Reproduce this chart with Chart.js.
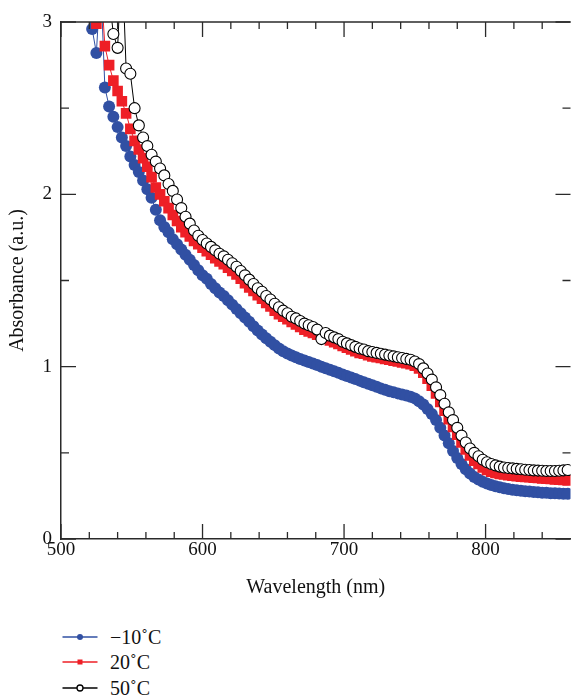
<!DOCTYPE html>
<html><head><meta charset="utf-8">
<script src="https://cdn.jsdelivr.net/npm/chart.js@4.4.0/dist/chart.umd.min.js"></script>
<style>
html,body{margin:0;padding:0;background:#fff;overflow:hidden;}
#wrap{position:relative;width:578px;height:697px;}
#c{position:absolute;left:0;top:0;}
.leg{position:absolute;left:62px;height:24px;display:flex;align-items:center;font-family:"Liberation Serif",serif;font-size:20px;color:#111;white-space:nowrap;}
.leg svg{margin-right:12px;}
</style></head><body>
<div id="wrap"><canvas id="c" width="578" height="600"></canvas><div id="legend"></div></div>
<script>
// Wavelength samples (nm)
const wavelength = [
 516,519,522,525,528,531,534,537,540,543,
 546,549,552,555,558,561,564,567,570,573,
 576,579,582,585,588,591,594,597,600,603,
 606,609,612,615,618,621,624,627,630,633,
 636,639,642,645,648,651,654,657,660,663,
 666,669,672,675,678,681,684,687,690,693,
 696,699,702,705,708,711,714,717,720,723,
 726,729,732,735,738,741,744,747,750,753,
 756,759,762,765,768,771,774,777,780,783,
 786,789,792,795,798,801,804,807,810,813,
 816,819,822,825,828,831,834,837,840,843,
 846,849,852,855,858
];
// Absorbance at -10 °C
const absMinus10 = [
 3.6,3.05,2.96,2.82,3.25,2.62,2.51,2.45,2.39,2.33,
 2.28,2.22,2.17,2.13,2.08,2.03,1.98,1.91,1.85,1.81,
 1.78,1.74,1.71,1.68,1.65,1.62,1.59,1.56,1.53,1.51,
 1.48,1.455,1.43,1.41,1.385,1.36,1.335,1.31,1.285,1.26,
 1.235,1.21,1.187,1.165,1.145,1.125,1.105,1.09,1.077,1.065,
 1.055,1.045,1.036,1.027,1.018,1.009,1.0,0.991,0.982,0.973,
 0.964,0.955,0.946,0.937,0.928,0.919,0.91,0.901,0.892,0.883,
 0.874,0.866,0.858,0.851,0.845,0.839,0.833,0.826,0.816,0.80,
 0.78,0.755,0.725,0.69,0.645,0.60,0.555,0.51,0.47,0.435,
 0.405,0.38,0.36,0.345,0.332,0.322,0.313,0.306,0.30,0.295,
 0.29,0.286,0.283,0.28,0.277,0.275,0.273,0.271,0.269,0.268,
 0.266,0.265,0.264,0.263,0.262
];
// Absorbance at 20 °C
const abs20 = [
 3.5,3.3,3.05,2.99,3.25,2.86,2.75,2.66,2.60,2.54,
 2.47,2.38,2.31,2.26,2.21,2.16,2.10,2.04,2.00,1.96,
 1.92,1.88,1.845,1.81,1.78,1.755,1.73,1.71,1.69,1.67,
 1.65,1.63,1.61,1.595,1.575,1.555,1.535,1.51,1.485,1.46,
 1.44,1.415,1.395,1.37,1.35,1.325,1.305,1.29,1.275,1.26,
 1.245,1.23,1.215,1.205,1.195,1.185,1.175,1.165,1.152,1.142,
 1.132,1.12,1.11,1.10,1.09,1.08,1.075,1.066,1.06,1.055,
 1.05,1.045,1.04,1.035,1.03,1.025,1.02,1.015,1.005,0.99,
 0.965,0.93,0.89,0.845,0.795,0.745,0.695,0.65,0.605,0.56,
 0.52,0.485,0.455,0.435,0.415,0.40,0.39,0.383,0.378,0.374,
 0.37,0.367,0.364,0.362,0.36,0.358,0.356,0.354,0.352,0.35,
 0.348,0.346,0.344,0.342,0.34
];
// Absorbance at 50 °C
const abs50 = [
 3.8,3.7,3.6,3.5,3.4,3.3,3.15,2.93,2.85,3.4,
 2.73,2.70,2.50,2.40,2.33,2.28,2.23,2.19,2.15,2.11,
 2.06,2.02,1.97,1.92,1.87,1.83,1.79,1.76,1.735,1.715,
 1.695,1.675,1.655,1.64,1.62,1.60,1.58,1.555,1.53,1.505,
 1.48,1.455,1.435,1.41,1.39,1.365,1.345,1.325,1.31,1.29,
 1.28,1.265,1.25,1.24,1.23,1.215,1.16,1.195,1.18,1.17,
 1.16,1.145,1.135,1.125,1.115,1.105,1.10,1.09,1.085,1.08,
 1.075,1.07,1.065,1.06,1.055,1.05,1.045,1.04,1.03,1.015,
 0.99,0.96,0.925,0.88,0.835,0.785,0.735,0.69,0.645,0.60,
 0.56,0.525,0.50,0.48,0.46,0.445,0.435,0.427,0.42,0.415,
 0.412,0.41,0.407,0.405,0.402,0.40,0.398,0.397,0.396,0.395,
 0.395,0.395,0.396,0.398,0.40
];
const seriesLabels = ['\u221210\u02DAC', '20\u02DAC', '50\u02DAC'];
const xMajorTicks = [500, 600, 700, 800];
const xMinorTicks = [520,540,560,580,620,640,660,680,720,740,760,780,820,840];
const yMajorTicks = [0, 1, 2, 3];
const yMinorTicks = [0.5, 1.5, 2.5];

const BLUE = '#3150a3', RED = '#ee1f26', BLACK = '#000000';
const FONT = "'Liberation Serif', 'Times New Roman', serif";
const toXY = arr => wavelength.map((w, i) => ({x: w, y: arr[i]}));

const frameTicks = {
  id: 'frameTicks',
  afterDatasetsDraw(chart) {
    const {ctx, chartArea: a, scales: {x, y}} = chart;
    ctx.save();
    ctx.strokeStyle = '#2a2a2a';
    ctx.lineWidth = 1.3;
    ctx.beginPath();
    const seg = (x1, y1, x2, y2) => { ctx.moveTo(x1, y1); ctx.lineTo(x2, y2); };
    const xt = (v, L) => { const p = x.getPixelForValue(v); seg(p, a.bottom, p, a.bottom - L); seg(p, a.top, p, a.top + L); };
    const yt = (v, L) => { const p = y.getPixelForValue(v); seg(a.left, p, a.left + L, p); seg(a.right, p, a.right - L, p); };
    xMinorTicks.forEach(v => xt(v, 7));
    xMajorTicks.forEach(v => xt(v, 15));
    yMinorTicks.forEach(v => yt(v, 8));
    yMajorTicks.forEach(v => yt(v, 15));
    ctx.stroke();
    ctx.lineWidth = 1.5;
    ctx.beginPath();
    seg(a.left, a.top, a.right, a.top);
    ctx.stroke();
    ctx.restore();
  }
};

new Chart(document.getElementById('c'), {
  type: 'line',
  data: {
    datasets: [
      { label: seriesLabels[0], data: toXY(absMinus10), order: 3,
        borderColor: BLUE, borderWidth: 1, backgroundColor: BLUE,
        pointStyle: 'circle', pointRadius: 6, pointBorderWidth: 0,
        pointBackgroundColor: BLUE, pointBorderColor: BLUE },
      { label: seriesLabels[1], data: toXY(abs20), order: 2,
        borderColor: RED, borderWidth: 1, backgroundColor: RED,
        pointStyle: 'rect', pointRadius: 7.5, pointBorderWidth: 0,
        pointBackgroundColor: RED, pointBorderColor: RED },
      { label: seriesLabels[2], data: toXY(abs50), order: 1,
        borderColor: BLACK, borderWidth: 1, backgroundColor: '#fff',
        pointStyle: 'circle', pointRadius: 5.5, pointBorderWidth: 1.1,
        pointBackgroundColor: '#ffffff', pointBorderColor: BLACK }
    ]
  },
  options: {
    responsive: false,
    animation: false,
    layout: { padding: { top: 22, right: 0, left: 0, bottom: 0 } },
    plugins: { legend: { display: false }, tooltip: { enabled: false } },
    elements: { line: { tension: 0 } },
    scales: {
      x: {
        type: 'linear', position: 'bottom', min: 500, max: 860,
        afterFit(s) { s.height = 61; },
        grid: { display: false, drawTicks: false, tickLength: 0 },
        border: { display: true, color: '#2a2a2a', width: 1.5 },
        ticks: { stepSize: 100, autoSkip: false, maxRotation: 0, padding: 0,
          color: '#111', font: { family: FONT, size: 19 },
          callback: v => (xMajorTicks.includes(v) ? String(v) : '') },
        title: { display: true, text: 'Wavelength (nm)', color: '#111',
          font: { family: FONT, size: 20 }, padding: { top: 0, bottom: 0 } }
      },
      y: {
        type: 'linear', position: 'left', min: 0, max: 3,
        afterFit(s) { s.width = 61; },
        grid: { display: false, drawTicks: false, tickLength: 0 },
        border: { display: true, color: '#2a2a2a', width: 1.5 },
        ticks: { stepSize: 1, autoSkip: false, padding: 9, color: '#111',
          font: { family: FONT, size: 19 },
          callback: v => (yMajorTicks.includes(v) ? String(v) : '') },
        title: { display: true, text: 'Absorbance (a.u.)', color: '#111',
          font: { family: FONT, size: 20 }, padding: { top: 6, bottom: 0 } }
      }
    }
  },
  plugins: [frameTicks]
});

// HTML legend (line + marker)
const legendColors = [BLUE, RED, BLACK];
const legendCenters = [637, 662, 688];
const markers = [
  c => `<circle cx="18" cy="12" r="3" fill="${c}"/>`,
  c => `<rect x="15.5" y="9.5" width="5" height="5" fill="${c}"/>`,
  c => `<circle cx="18" cy="12" r="3" fill="#fff" stroke="${c}" stroke-width="1.3"/>`
];
const legend = document.getElementById('legend');
seriesLabels.forEach((lab, i) => {
  const d = document.createElement('div');
  d.className = 'leg';
  d.style.top = (legendCenters[i] - 12) + 'px';
  d.innerHTML = `<svg width="36" height="24" viewBox="0 0 36 24"><line x1="0.5" y1="12" x2="35.5" y2="12" stroke="${legendColors[i]}" stroke-width="1.3"/>${markers[i](legendColors[i])}</svg><span>${lab}</span>`;
  legend.appendChild(d);
});
</script></body></html>
